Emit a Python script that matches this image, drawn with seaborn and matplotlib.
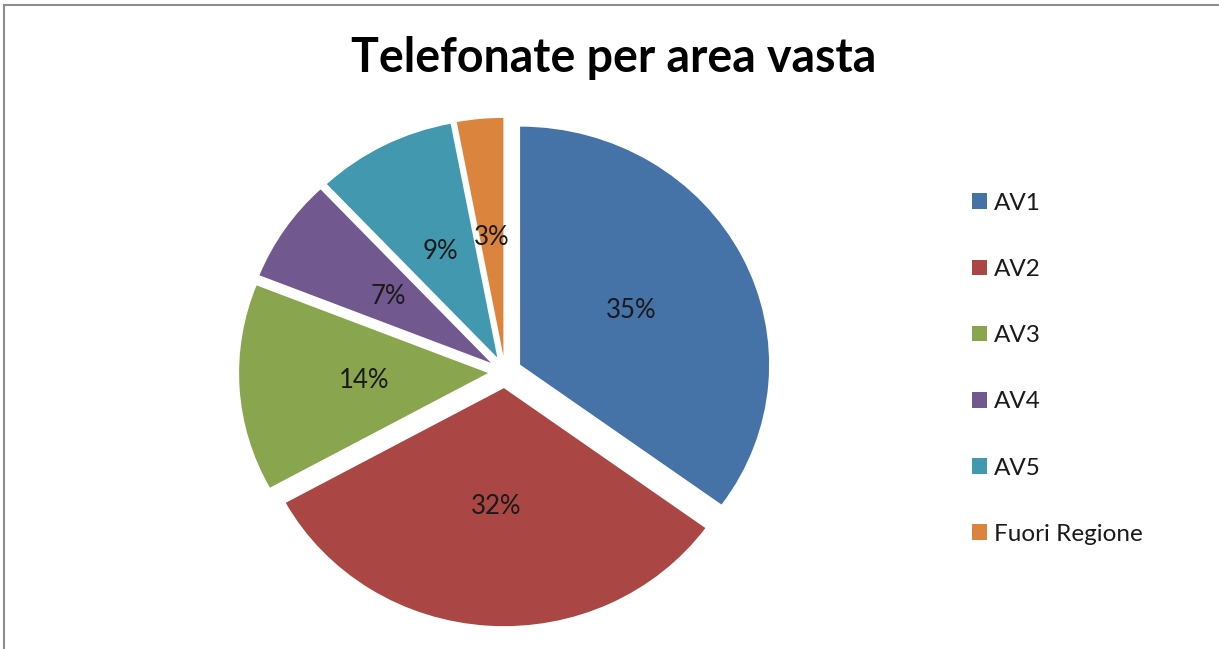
import matplotlib
matplotlib.use("Agg")
import matplotlib.pyplot as plt
import seaborn as sns
from matplotlib.patches import Rectangle

categories = ["AV1", "AV2", "AV3", "AV4", "AV5", "Fuori Regione"]
values = [35, 32, 14, 7, 9, 3]
colors = ["#4572A7", "#AA4643", "#89A54E", "#71588F", "#4198AF", "#DB843D"]
title = "Telefonate per area vasta"

sns.set_theme(style="white")
plt.rcParams['font.family'] = ['Lato', 'DejaVu Sans']

W, H = 1219, 649
fig = plt.figure(figsize=(W / 100, H / 100), dpi=100)

# pie centre (px) and radii (px)
cx, cy = 505, 372
rx, ry = 249, 238
lim = 1.15
ax = fig.add_axes([(cx - lim * rx) / W, (H - cy - lim * ry) / H,
                   2 * lim * rx / W, 2 * lim * ry / H])

wedges, texts, autotexts = ax.pie(
    values, colors=colors, startangle=90, counterclock=False,
    explode=[0.068] * len(values), autopct='%1.0f%%', pctdistance=0.5,
    textprops=dict(fontsize=18.5, color="#1a1a1a"),
    wedgeprops=dict(linewidth=0))
ax.set_aspect('auto')
ax.set_xlim(-lim, lim)
ax.set_ylim(-lim, lim)
ax.axis('off')

fig.text(614 / W, 1 - 58 / H, title, ha='center', va='center',
         fontsize=33.5, fontweight='bold', color='black')

leg = fig.legend(wedges, categories, loc='upper left',
                 bbox_to_anchor=(962 / W, 1 - 183 / H),
                 frameon=False, fontsize=17.5, handlelength=0.62,
                 handleheight=0.62, handletextpad=0.3, labelspacing=1.86,
                 borderaxespad=0)
for t in leg.get_texts():
    t.set_color("#1a1a1a")

# outer chart border (visible on left and top only)
fig.patches.append(Rectangle((3.5 / W, -0.05), 1.2, 1 - 5 / H + 0.05,
                             transform=fig.transFigure, fill=False,
                             edgecolor="#8c8c8c", linewidth=1.5))

fig.savefig("out.png", dpi=100)
